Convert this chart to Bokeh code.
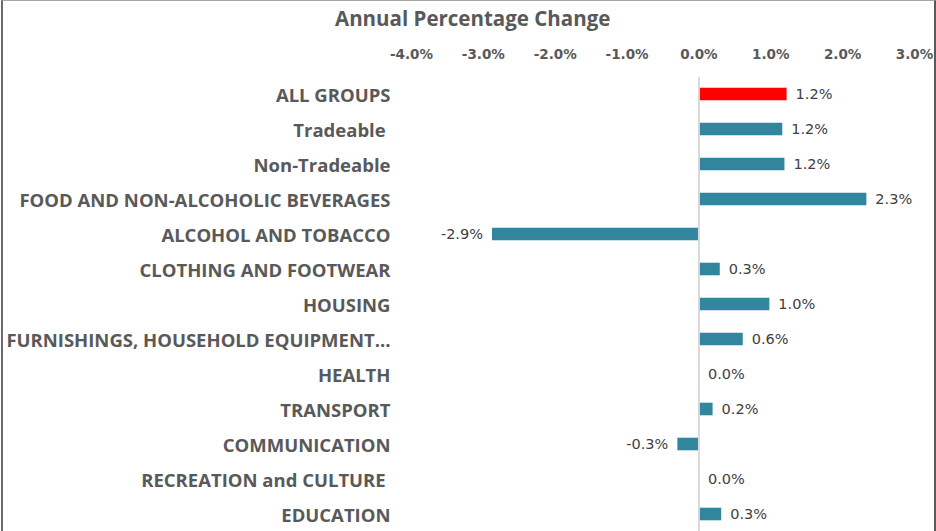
from bokeh.plotting import figure
from bokeh.layouts import column
from bokeh.models import Range1d, FactorRange, FixedTicker, PrintfTickFormatter, Span, ColumnDataSource, Div
from bokeh.core.properties import value
from bokeh.embed import file_html
from bokeh.resources import INLINE

# ---- data ----
categories = [
    "ALL GROUPS",
    "Tradeable ",
    "Non-Tradeable",
    "FOOD AND NON-ALCOHOLIC BEVERAGES",
    "ALCOHOL AND TOBACCO",
    "CLOTHING AND FOOTWEAR",
    "HOUSING",
    "FURNISHINGS, HOUSEHOLD EQUIPMENT\u2026",
    "HEALTH",
    "TRANSPORT",
    "COMMUNICATION",
    "RECREATION and CULTURE ",
    "EDUCATION",
]
changes = [1.22, 1.16, 1.19, 2.33, -2.88, 0.29, 0.98, 0.61, 0.0, 0.19, -0.30, 0.0, 0.31]
x_ticks = [-4, -3, -2, -1, 0, 1, 2, 3]
title_text = "Annual Percentage Change"
highlight = "ALL GROUPS"

TEAL = "#31859C"
RED = "#FF0000"

colors = [RED if c == highlight else TEAL for c in categories]
labels = [f"{v:.1f}%" for v in changes]

src = ColumnDataSource(dict(cat=categories, val=changes, color=colors, label=labels))
pos = ColumnDataSource(dict(
    cat=[c for c, v in zip(categories, changes) if v >= 0],
    val=[v for v in changes if v >= 0],
    label=[l for l, v in zip(labels, changes) if v >= 0],
))
neg = ColumnDataSource(dict(
    cat=[c for c, v in zip(categories, changes) if v < 0],
    val=[v for v in changes if v < 0],
    label=[l for l, v in zip(labels, changes) if v < 0],
))

TITLE_H = 40

p = figure(
    width=931, height=530 - TITLE_H,
    x_range=Range1d(x_ticks[0], x_ticks[-1]),
    y_range=FactorRange(*reversed(categories)),
    x_axis_location="above",
    output_backend="svg", toolbar_location=None,
    min_border_left=407, min_border_right=20, min_border_top=75 - TITLE_H, min_border_bottom=0,
    margin=0,
)
p.background_fill_color = "white"
p.border_fill_color = "white"
p.outline_line_color = None
p.xgrid.visible = False
p.ygrid.visible = False

# x axis (top)
xa = p.xaxis[0]
xa.ticker = FixedTicker(ticks=x_ticks)
xa.formatter = PrintfTickFormatter(format="%.1f%%")
xa.axis_line_color = None
xa.major_tick_line_color = None
xa.minor_tick_line_color = None
xa.major_tick_out = 0
xa.major_tick_in = 0
xa.major_label_standoff = 15
xa.major_label_text_font = "DejaVu Sans"
xa.major_label_text_font_style = "bold"
xa.major_label_text_font_size = "13.5px"
xa.major_label_text_color = "#595959"

# y axis (categories)
ya = p.yaxis[0]
ya.axis_line_color = None
ya.major_tick_line_color = None
ya.minor_tick_line_color = None
ya.major_tick_out = 0
ya.major_tick_in = 0
ya.major_label_standoff = 21
ya.major_label_text_font = "Open Sans"
ya.major_label_text_font_style = "bold"
ya.major_label_text_font_size = "18.5px"
ya.major_label_text_color = "#595959"

# zero line
p.add_layout(Span(location=0, dimension="height", line_color="#D9D9D9", line_width=2))

# bars
p.hbar(y="cat", left=0, right="val", height=0.36, fill_color="color", line_color=None, source=src)

# value labels
p.text(x="val", y="cat", text="label", source=pos, x_offset=9, text_align="left",
       text_baseline="middle", text_font=value("DejaVu Sans"), text_font_size="14.5px",
       text_color="#404040")
p.text(x="val", y="cat", text="label", source=neg, x_offset=-9, text_align="right",
       text_baseline="middle", text_font=value("DejaVu Sans"), text_font_size="14.5px",
       text_color="#404040")

# chart title
title_div = Div(
    text=(
        "<div style=\"margin:0 0 0 332px; padding:7px 0 0 0; white-space:nowrap; "
        "font-family:'Open Sans'; font-weight:bold; font-size:20.5px; line-height:20.5px; "
        f"color:#595959\">{title_text}</div>"
    ),
    width=931, height=TITLE_H, margin=0,
)

layout = column(
    title_div, p, spacing=0, margin=0,
    styles={
        "border-left": "2px solid #6B6B6B",
        "border-right": "2px solid #595959",
        "border-top": "1px solid #A6A6A6",
        "margin-left": "1px",
        "background-color": "white",
    },
)

open("out.html", "w").write(file_html(layout, INLINE))
